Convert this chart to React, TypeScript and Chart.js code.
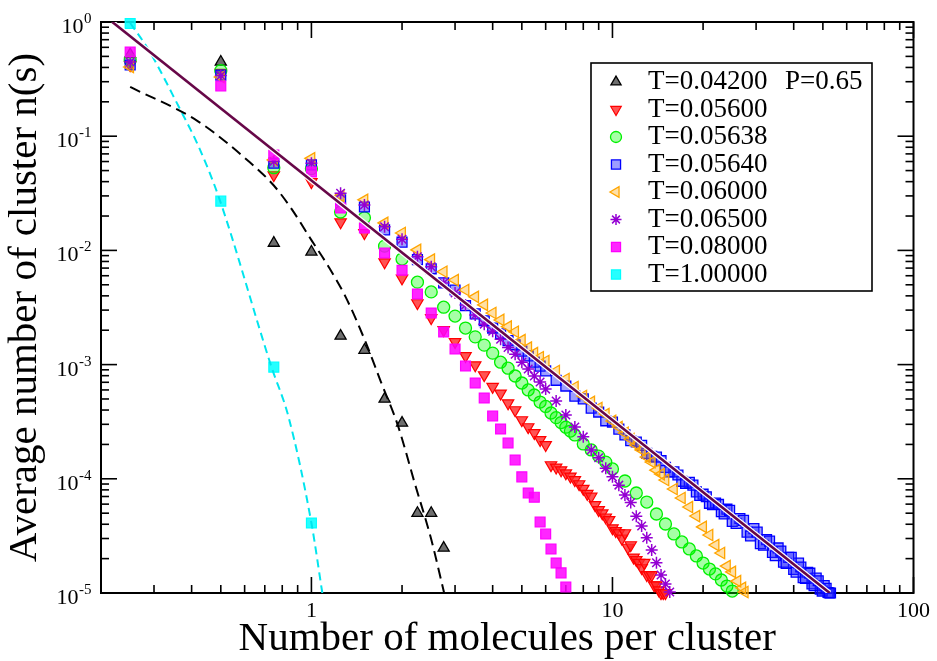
import React, { useEffect, useRef } from 'react';
import { Chart, registerables } from 'chart.js';
import { drawPoint } from 'chart.js/helpers';

Chart.register(...registerables);

const FONT = '"Liberation Serif", "Times New Roman", Times, serif';

// ---------------- data ----------------
const clusterSize = [
  0.25, 0.5, 0.75, 1, 1.25, 1.5, 1.75, 2, 2.25, 2.5, 2.75, 3, 3.25, 3.5, 3.75, 4, 4.25, 4.5, 4.75, 5,
  5.25, 5.5, 5.75, 6, 6.25, 6.5, 6.75, 7, 7.25, 7.5, 7.75, 8, 8.25, 8.5, 8.75, 9, 9.25, 9.5, 9.75, 10,
  10.25, 10.5, 10.75, 11, 11.25, 11.5, 11.75, 12, 12.25, 12.5, 12.75, 13, 13.25, 13.5, 13.75, 14, 14.25, 14.5, 14.75, 15,
];

const nT04200 = [0.52, 0.447, 0.0116, 0.0097, 0.00178, 0.00134, 5.0e-4, 3.08e-4, 5.0e-5, 5.0e-5, 2.48e-5];

const nT05600 = [
  0.42, 0.36, 0.0457, 0.0397, 0.0177, 0.0142, 0.0079, 0.0057, 0.00346, 0.00256,
  0.00201, 0.00158, 0.00119, 9.9e-4, 8.1e-4, 6.4e-4, 5.6e-4, 4.6e-4, 4.0e-4, 3.27e-4,
  2.84e-4, 2.52e-4, 2.19e-4, 1.98e-4, 1.32e-4, 1.26e-4, 1.19e-4, 1.12e-4, 1.05e-4, 9.76e-5,
  9.0e-5, 8.2e-5, 7.4e-5, 7.0e-5, 5.9e-5, 5.33e-5, 5.0e-5, 4.6e-5, 4.36e-5, 3.7e-5,
  3.5e-5, 3.35e-5, 3.0e-5, 3.35e-5, 2.5e-5, 2.63e-5, 2.05e-5, 1.95e-5, 1.84e-5, 1.66e-5,
  1.84e-5, 1.44e-5, 1.44e-5, 1.44e-5, 1.17e-5, 1.17e-5, 1.06e-5, 1.0e-5, 1.0e-5, 1.0e-5,
];

const sizeT05638 = [
  0.25, 0.5, 0.75, 1, 1.25, 1.5, 1.75, 2, 2.25, 2.5, 2.75, 3, 3.25, 3.5, 3.75, 4, 4.25, 4.5, 4.75, 5, 5.25, 5.5, 5.75, 6,
  6.25, 6.5, 6.75, 7, 7.25, 7.5, 8, 8.5, 9, 9.5, 10, 11, 12, 13, 14, 15, 16, 17, 18, 19, 20, 21, 22, 23, 24, 25,
];
const nT05638 = [
  0.465, 0.375, 0.053, 0.052, 0.0217, 0.0193, 0.0109, 0.0084, 0.00527, 0.00433, 0.00318, 0.00266,
  0.00209, 0.00175, 0.00148, 0.00126, 0.00105, 9.3e-4, 7.95e-4, 6.9e-4, 6.0e-4, 5.42e-4, 4.7e-4, 4.3e-4,
  3.77e-4, 3.43e-4, 3.11e-4, 2.83e-4, 2.62e-4, 2.42e-4, 2.02e-4, 1.79e-4, 1.58e-4, 1.4e-4, 1.22e-4,
  9.57e-5, 7.51e-5, 6.26e-5, 4.92e-5, 4.02e-5, 3.29e-5, 2.8e-5, 2.43e-5, 2.11e-5, 1.83e-5, 1.62e-5,
  1.47e-5, 1.3e-5, 1.15e-5, 1.04e-5,
];

const sizeT05640 = [
  0.25, 0.5, 0.75, 1, 1.25, 1.5, 1.75, 2, 2.25, 2.5, 2.75, 3, 3.25, 3.5, 3.75, 4, 4.25, 4.5, 4.75, 5, 5.25, 5.5, 5.75, 6,
  6.5, 7, 7.5, 8, 8.5, 9, 9.5, 10, 11, 12, 13, 14, 15, 16, 17, 18, 19, 20, 21, 22, 23, 24, 25,
  26.5, 28, 29.5, 31, 32.5, 34, 35.5, 37, 38.5, 40, 41.5, 43, 44.5, 46, 47.5, 49, 50.5, 52, 53,
  10.5, 11.5, 12.5, 13.5, 14.5, 15.5, 16.5, 17.5, 18.5, 19.5, 20.5, 21.5, 22.5, 23.5, 24.5,
  25.75, 27.25, 28.75, 30.25, 31.75, 33.25, 34.75, 36.25, 37.75, 39.25, 40.75, 42.25, 43.75, 45.25, 46.75, 48.25,
  49.75, 51.25, 52.5,
];
const nT05640 = [
  0.42, 0.343, 0.058, 0.056, 0.0277, 0.024, 0.0151, 0.0118, 0.0083, 0.0069, 0.0052, 0.0045,
  3.28e-3, 2.78e-3, 2.42e-3, 2.09e-3, 1.86e-3, 1.62e-3, 1.49e-3, 1.31e-3, 1.19e-3, 1.05e-3, 9.7e-4, 8.8e-4,
  7.29e-4, 6.49e-4, 5.29e-4, 5.01e-4, 4.15e-4, 3.84e-4, 3.22e-4, 3.14e-4,
  2.42e-4, 2.1e-4, 1.67e-4, 1.55e-4, 1.26e-4, 1.15e-4, 9.51e-5, 9.33e-5, 7.69e-5, 7.33e-5, 6.1e-5, 6.13e-5,
  5.15e-5, 5.42e-5, 4.24e-5,
  4.49e-5, 3.41e-5, 3.66e-5, 2.7e-5, 2.93e-5, 2.27e-5, 2.48e-5, 1.86e-5, 2.05e-5, 1.61e-5, 1.83e-5,
  1.36e-5, 1.52e-5, 1.2e-5, 1.35e-5, 1.08e-5, 1.16e-5, 1.01e-5, 1.0e-5,
  2.72e-4, 2.16e-4, 1.96e-4, 1.57e-4, 1.44e-4, 1.15e-4, 1.08e-4, 9.13e-5, 8.81e-5, 7.14e-5, 6.96e-5,
  5.93e-5, 5.96e-5, 4.92e-5, 5.3e-5,
  4.06e-5, 4.33e-5, 3.16e-5, 3.41e-5, 2.62e-5, 2.85e-5, 2.12e-5, 2.33e-5, 1.82e-5, 2.05e-5, 1.52e-5,
  1.69e-5, 1.34e-5, 1.49e-5, 1.16e-5, 1.28e-5, 1.04e-5, 1.1e-5, 1.0e-5,
];

const sizeT06000 = [
  0.25, 0.5, 0.75, 1, 1.25, 1.5, 1.75, 2, 2.25, 2.5, 2.75, 3, 3.25, 3.5, 3.75, 4, 4.25, 4.5, 4.75, 5, 5.25, 5.5, 5.75,
  6, 6.5, 7, 7.5, 8, 8.5, 9, 9.5, 10, 10.5, 11, 11.5, 12, 12.5, 13, 13.5, 14, 14.5, 15,
  16, 17, 18, 19, 20, 21, 22, 23, 24, 25, 26, 27, 27.5,
];
const nT06000 = [
  0.404, 0.33, 0.062, 0.064, 0.03, 0.0277, 0.0174, 0.0142, 0.0101, 0.0083, 0.0065, 0.0055,
  0.0045, 0.00392, 0.00333, 0.00283, 0.00246, 0.00215, 0.00194, 0.00164, 0.00141, 0.00126, 0.00116,
  1.075e-3, 8.79e-4, 7.48e-4, 6.37e-4, 5.31e-4, 4.71e-4, 4.17e-4, 3.69e-4, 3.21e-4, 2.84e-4,
  2.52e-4, 2.23e-4, 1.98e-4, 1.79e-4, 1.55e-4, 1.4e-4, 1.19e-4, 1.1e-4, 9.76e-5,
  8.14e-5, 6.79e-5, 5.66e-5, 4.72e-5, 3.79e-5, 3.22e-5, 2.63e-5, 2.24e-5, 1.72e-5, 1.53e-5,
  1.27e-5, 1.11e-5, 1.02e-5,
];

const sizeT06500 = [
  0.25, 0.5, 0.75, 1, 1.25, 1.5, 1.75, 2, 2.25, 2.5, 2.75, 3, 3.25, 3.5, 3.75, 4, 4.25, 4.5, 4.75, 5, 5.25, 5.5, 5.75, 6,
  6.5, 7, 7.5, 8, 8.5, 9, 9.5, 10, 10.5, 11, 11.5, 12, 12.5, 13, 13.5, 14, 14.5, 15, 15.5,
];
const nT06500 = [
  0.447, 0.34, 0.06, 0.058, 0.0317, 0.025, 0.0161, 0.0125, 0.0088, 0.0072,
  5.19e-3, 4.23e-3, 3.33e-3, 2.72e-3, 2.26e-3, 1.96e-3, 1.67e-3, 1.41e-3, 1.23e-3, 1.05e-3,
  9.15e-4, 7.95e-4, 7.04e-4, 6.1e-4,
  4.8e-4, 3.62e-4, 2.84e-4, 2.33e-4, 1.79e-4, 1.53e-4, 1.24e-4, 1.04e-4, 8.8e-5, 7.2e-5,
  6.2e-5, 4.7e-5, 3.86e-5, 3.05e-5, 2.38e-5, 1.84e-5, 1.44e-5, 1.2e-5, 1.02e-5,
];

const nT08000 = [
  0.546, 0.275, 0.0685, 0.0486, 0.0235, 0.0157, 0.0095, 0.0067, 0.00415, 0.00283,
  0.00193, 0.00137, 9.73e-4, 6.9e-4, 5.1e-4, 3.55e-4, 2.73e-4, 2.06e-4, 1.46e-4, 1.04e-4,
  7.5e-5, 6.9e-5, 4.19e-5, 3.29e-5, 2.43e-5, 1.83e-5, 1.5e-5, 1.13e-5,
];

const nT10000 = [0.97, 0.027, 9.5e-4, 4.1e-5];

// fitted curves
const fitLowX = [0.25, 0.42, 0.62, 0.75, 0.86, 1.0, 1.14, 1.3, 1.51, 1.7, 1.94, 2.2, 2.5, 2.76];
const fitLowY = [0.27, 0.135, 0.06, 0.037, 0.023, 0.0123, 0.0072, 0.0039, 0.0016, 7.1e-4, 2.9e-4, 9.3e-5, 2.95e-5, 1.0e-5];
const fitHighX = [0.25, 0.288, 0.363, 0.423, 0.492, 0.737, 0.839, 1.0, 1.087];
const fitHighY = [0.98, 0.569, 0.18, 0.08, 0.0294, 9.5e-4, 3.5e-4, 4.1e-5, 1.0e-5];
const powerLawX = [0.218, 52.7];
const powerLawY = [1.0, 1.0e-5];

const legendLabels = ['T=0.04200', 'T=0.05600', 'T=0.05638', 'T=0.05640', 'T=0.06000', 'T=0.06500', 'T=0.08000', 'T=1.00000'];
const pressureLabel = 'P=0.65';
const xTickLabels = [1, 10, 100];
const yTickExponents = [0, -1, -2, -3, -4, -5];

// ---------------- styles ----------------
type MarkerStyle = {
  pointStyle: string;
  rotation: number;
  radius: number;
  border: string;
  fill: string;
  borderWidth: number;
};

const markerStyles: MarkerStyle[] = [
  { pointStyle: 'triangle', rotation: 0, radius: 6.4, border: '#000000', fill: '#6e6e6e', borderWidth: 1.3 },
  { pointStyle: 'triangle', rotation: 180, radius: 6.6, border: '#ff0000', fill: 'rgba(255,40,40,0.8)', borderWidth: 1.2 },
  { pointStyle: 'circle', rotation: 0, radius: 6, border: '#00f000', fill: 'rgba(0,255,0,0.35)', borderWidth: 1.3 },
  { pointStyle: 'rect', rotation: 0, radius: 7, border: '#0000ff', fill: 'rgba(40,40,255,0.45)', borderWidth: 1.3 },
  { pointStyle: 'triangle', rotation: 270, radius: 6.6, border: '#ffa500', fill: 'rgba(255,165,0,0.35)', borderWidth: 1.3 },
  { pointStyle: 'star', rotation: 0, radius: 6, border: '#9400d3', fill: '#9400d3', borderWidth: 1.5 },
  { pointStyle: 'rect', rotation: 0, radius: 7, border: '#ff00ff', fill: 'rgba(255,0,255,0.85)', borderWidth: 1.2 },
  { pointStyle: 'rect', rotation: 0, radius: 7, border: '#00ffff', fill: 'rgba(0,255,255,0.85)', borderWidth: 1.2 },
];

const toPoints = (xs: number[], ys: number[]) => ys.map((y, i) => ({ x: xs[i], y }));

function markerDataset(label: string, xs: number[], ys: number[], s: MarkerStyle, order: number) {
  return {
    label,
    data: toPoints(xs, ys),
    showLine: false,
    pointStyle: s.pointStyle,
    pointRotation: s.rotation,
    pointRadius: s.radius,
    pointBorderColor: s.border,
    pointBackgroundColor: s.fill,
    pointBorderWidth: s.borderWidth,
    borderColor: s.border,
    backgroundColor: s.fill,
    clip: false,
    order,
  };
}

const isDecade = (v: number) => Math.abs(Math.log10(v) - Math.round(Math.log10(v))) < 1e-9;

const framePlugin = {
  id: 'graceFrame',
  beforeDatasetsDraw(chart: any) {
    const { ctx, chartArea: a, scales } = chart;
    const xs = scales.x;
    const ys = scales.y;
    ctx.save();
    ctx.strokeStyle = '#000';
    ctx.lineCap = 'butt';
    const seg = (x1: number, y1: number, x2: number, y2: number) => {
      ctx.beginPath();
      ctx.moveTo(x1, y1);
      ctx.lineTo(x2, y2);
      ctx.stroke();
    };
    ctx.lineWidth = 1.6;
    // x ticks (bottom & top, inward)
    for (let e = -1; e <= 1; e++) {
      for (let m = 1; m <= 9; m++) {
        const v = m * Math.pow(10, e);
        if (v < 0.2 - 1e-9 || v > 100 + 1e-9) continue;
        const px = xs.getPixelForValue(v);
        const len = m === 1 ? 16 : 8;
        seg(px, a.bottom, px, a.bottom - len);
        seg(px, a.top, px, a.top + len);
      }
    }
    const px100 = xs.getPixelForValue(100);
    seg(px100, a.bottom, px100, a.bottom - 16);
    seg(px100, a.top, px100, a.top + 16);
    // y ticks (left & right, inward)
    for (let e = -5; e <= 0; e++) {
      for (let m = 1; m <= 9; m++) {
        const v = m * Math.pow(10, e);
        if (v > 1 + 1e-9) continue;
        const py = ys.getPixelForValue(v);
        const len = m === 1 ? 16 : 8;
        seg(a.left, py, a.left + len, py);
        seg(a.right, py, a.right - len, py);
      }
    }
    ctx.lineWidth = 2;
    ctx.strokeRect(a.left, a.top, a.right - a.left, a.bottom - a.top);
    ctx.restore();
  },
  afterDatasetsDraw(chart: any) {
    const { ctx, scales } = chart;
    const ys = scales.y;
    ctx.save();
    // y tick labels 10^n
    ctx.fillStyle = '#000';
    ctx.textBaseline = 'alphabetic';
    ctx.textAlign = 'left';
    const right = 91;
    yTickExponents.forEach((p) => {
      const py = ys.getPixelForValue(Math.pow(10, p));
      const sup = String(p);
      ctx.font = `15px ${FONT}`;
      const supW = ctx.measureText(sup).width;
      ctx.font = `22px ${FONT}`;
      const baseW = ctx.measureText('10').width;
      const x0 = right - supW - baseW;
      ctx.fillText('10', x0, py + 11);
      ctx.font = `15px ${FONT}`;
      ctx.fillText(sup, x0 + baseW + 0.5, py + 1);
    });

    // legend
    const box = { left: 591, top: 63, right: 872, bottom: 291 };
    ctx.fillStyle = '#fff';
    ctx.fillRect(box.left, box.top, box.right - box.left, box.bottom - box.top);
    ctx.strokeStyle = '#000';
    ctx.lineWidth = 1.6;
    ctx.strokeRect(box.left, box.top, box.right - box.left, box.bottom - box.top);
    const rowTop = 82;
    const rowGap = 27.5;
    legendLabels.forEach((label, i) => {
      const y = rowTop + i * rowGap;
      const s = markerStyles[i];
      ctx.save();
      ctx.fillStyle = s.fill;
      ctx.strokeStyle = s.border;
      ctx.lineWidth = s.borderWidth;
      drawPoint(ctx, { pointStyle: s.pointStyle as any, rotation: s.rotation, radius: s.radius * 0.92, borderWidth: s.borderWidth }, 616, y);
      ctx.restore();
      ctx.fillStyle = '#000';
      ctx.font = `27px ${FONT}`;
      ctx.textBaseline = 'middle';
      ctx.textAlign = 'left';
      ctx.fillText(label, 648, y);
      if (i === 0) ctx.fillText(pressureLabel, 785, y);
    });
    ctx.restore();
  },
};

export default function App() {
  const canvasRef = useRef<HTMLCanvasElement | null>(null);

  useEffect(() => {
    document.body.style.margin = '0';
    const canvas = canvasRef.current;
    if (!canvas) return;

    const datasets: any[] = [
      {
        label: 'power law',
        data: toPoints(powerLawX, powerLawY),
        showLine: true,
        borderColor: '#670748',
        borderWidth: 2.6,
        pointRadius: 0,
        order: 0,
      },
      {
        label: 'power law halo',
        data: toPoints(powerLawX, powerLawY),
        showLine: true,
        borderColor: '#ffffff',
        borderWidth: 5,
        pointRadius: 0,
        order: 1,
      },
      {
        label: 'fit T=0.042',
        data: toPoints(fitLowX, fitLowY),
        showLine: true,
        borderColor: '#000000',
        borderWidth: 2,
        borderDash: [11, 6],
        pointRadius: 0,
        cubicInterpolationMode: 'monotone',
        order: 2,
      },
      {
        label: 'fit T=1.0',
        data: toPoints(fitHighX, fitHighY),
        showLine: true,
        borderColor: '#00e5ee',
        borderWidth: 2,
        borderDash: [8, 5],
        pointRadius: 0,
        cubicInterpolationMode: 'monotone',
        order: 3,
      },
      markerDataset(legendLabels[7], clusterSize, nT10000, markerStyles[7], 4),
      markerDataset(legendLabels[6], clusterSize, nT08000, markerStyles[6], 5),
      markerDataset(legendLabels[5], sizeT06500, nT06500, markerStyles[5], 6),
      markerDataset(legendLabels[4], sizeT06000, nT06000, markerStyles[4], 7),
      markerDataset(legendLabels[3], sizeT05640, nT05640, markerStyles[3], 8),
      markerDataset(legendLabels[2], sizeT05638, nT05638, markerStyles[2], 9),
      markerDataset(legendLabels[1], clusterSize, nT05600, markerStyles[1], 10),
      markerDataset(legendLabels[0], clusterSize, nT04200, markerStyles[0], 11),
    ];

    const chart = new Chart(canvas, {
      type: 'scatter',
      data: { datasets },
      options: {
        animation: false,
        responsive: false,
        maintainAspectRatio: false,
        layout: { padding: { top: 22, right: 20, left: 0, bottom: 0 } },
        plugins: {
          legend: { display: false },
          tooltip: { enabled: false },
        },
        scales: {
          x: {
            type: 'logarithmic',
            position: 'bottom',
            min: 0.2,
            max: 100,
            grid: { display: false, drawTicks: false },
            border: { display: false },
            ticks: {
              autoSkip: false,
              maxRotation: 0,
              minRotation: 0,
              padding: 7,
              color: '#000',
              font: { family: FONT, size: 22, lineHeight: 1 },
              callback: (v: any) => {
                const n = Number(v);
                return isDecade(n) && xTickLabels.includes(Math.round(n)) ? String(Math.round(n)) : '';
              },
            },
            title: {
              display: true,
              text: 'Number of molecules per cluster',
              color: '#000',
              font: { family: FONT, size: 41, lineHeight: 1 },
              padding: { top: 0, bottom: 1 },
            },
            afterFit: (s: any) => {
              s.height = 68;
            },
          },
          y: {
            type: 'logarithmic',
            position: 'left',
            min: 1e-5,
            max: 1,
            grid: { display: false, drawTicks: false },
            border: { display: false },
            ticks: { display: false },
            title: {
              display: true,
              text: 'Average number of cluster n(s)',
              color: '#000',
              font: { family: FONT, size: 41, lineHeight: 1 },
              padding: { top: 5, bottom: 0 },
            },
            afterFit: (s: any) => {
              s.width = 101;
            },
          },
        },
      } as any,
      plugins: [framePlugin],
    });

    return () => {
      chart.destroy();
    };
  }, []);

  return (
    <div style={{ position: 'absolute', left: 0, top: 0, width: 937, height: 661, background: '#fff' }}>
      <canvas ref={canvasRef} width={937} height={661} style={{ display: 'block' }} />
    </div>
  );
}
